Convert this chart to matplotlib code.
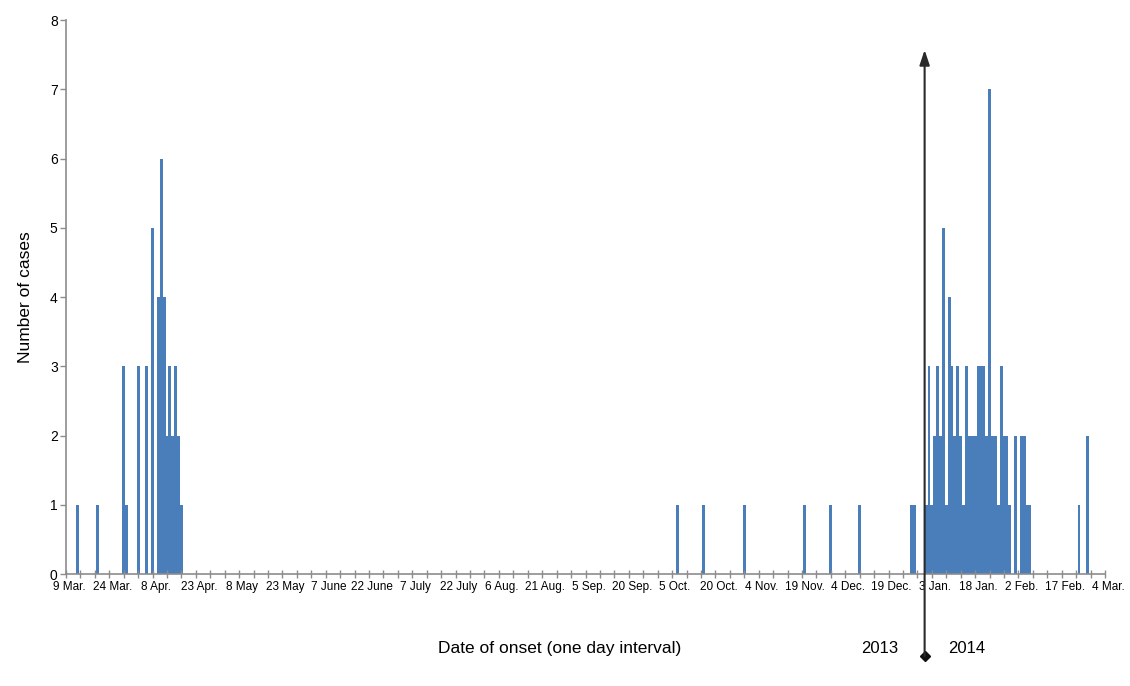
import matplotlib
matplotlib.use("Agg")
import matplotlib.pyplot as plt
import matplotlib.transforms as mtransforms
import numpy as np
import pandas as pd

plt.rcParams['font.family'] = ['Liberation Sans Narrow', 'Liberation Sans', 'DejaVu Sans']

# ---- data ----
start_date = "2013-03-09"
end_date = "2014-03-04"
year_break = "2014-01-01"

onset_dates = [
    "2013-03-13", "2013-03-20", "2013-03-29", "2013-03-30", "2013-04-03", "2013-04-06",
    "2013-04-08", "2013-04-10", "2013-04-11", "2013-04-12", "2013-04-13", "2013-04-14",
    "2013-04-15", "2013-04-16", "2013-04-17", "2013-04-18",
    "2013-10-07", "2013-10-16", "2013-10-30", "2013-11-20", "2013-11-29", "2013-12-09",
    "2013-12-27", "2013-12-28",
    "2014-01-01", "2014-01-02", "2014-01-03", "2014-01-04", "2014-01-05", "2014-01-06",
    "2014-01-07", "2014-01-08", "2014-01-09", "2014-01-10", "2014-01-11", "2014-01-12",
    "2014-01-13", "2014-01-14", "2014-01-15", "2014-01-16", "2014-01-17", "2014-01-18",
    "2014-01-19", "2014-01-20", "2014-01-21", "2014-01-22", "2014-01-23", "2014-01-24",
    "2014-01-25", "2014-01-26", "2014-01-27", "2014-01-28", "2014-01-29", "2014-01-30",
    "2014-02-01", "2014-02-03", "2014-02-04", "2014-02-05", "2014-02-06",
    "2014-02-23", "2014-02-26",
]
cases = [
    1, 1, 3, 1, 3, 3,
    5, 4, 6, 4, 2, 3,
    2, 3, 2, 1,
    1, 1, 1, 1, 1, 1,
    1, 1,
    1, 3, 1, 2, 3, 2,
    5, 1, 4, 3, 2, 3,
    2, 1, 3, 2, 2, 2,
    3, 3, 3, 2, 7, 2,
    2, 1, 3, 2, 2, 1,
    2, 2, 2, 1, 1,
    1, 2,
]
tick_labels = ["9 Mar.", "24 Mar.", "8 Apr.", "23 Apr.", "8 May", "23 May", "7 June",
               "22 June", "7 July", "22 July", "6 Aug.", "21 Aug.", "5 Sep.", "20 Sep.",
               "5 Oct.", "20 Oct.", "4 Nov.", "19 Nov.", "4 Dec.", "19 Dec.", "3 Jan.",
               "18 Jan.", "2 Feb.", "17 Feb.", "4 Mar."]
y_ticks = [0, 1, 2, 3, 4, 5, 6, 7, 8]

# ---- figure ----
W, H = 1130, 686
fig = plt.figure(figsize=(W / 100, H / 100), dpi=100)
ax = fig.add_axes([66 / W, 1 - 574 / H, (1105 - 66) / W, (574 - 20) / H])

t0 = pd.Timestamp(start_date)
day = np.array([(pd.Timestamp(d) - t0).days for d in onset_dates])
total_days = (pd.Timestamp(end_date) - t0).days

bar_color = "#4a7ebb"
bars = ax.bar(day, cases, width=1.0, color=bar_color, linewidth=0, align="center")
for b in bars:
    b.set_antialiased(False)

ax.set_xlim(0, total_days)
ax.set_ylim(0, 8)

major = np.arange(0, total_days + 1, 15)
minor = np.arange(0, total_days + 1, 5)
ax.set_xticks(major)
ax.set_xticks(minor, minor=True)
ax.set_xticklabels(tick_labels, fontsize=8.5)
ax.set_yticks(y_ticks)
ax.set_yticklabels([str(v) for v in y_ticks], fontsize=10)

axis_grey = "#8c8c8c"
for s in ["top", "right"]:
    ax.spines[s].set_visible(False)
for s in ["left", "bottom"]:
    ax.spines[s].set_color(axis_grey)
    ax.spines[s].set_linewidth(1.2)

ax.tick_params(axis="x", which="both", direction="inout", length=6, color=axis_grey,
               width=1, pad=2)
ax.tick_params(axis="y", which="major", direction="out", length=4, color=axis_grey,
               width=1, pad=2)

offset = mtransforms.ScaledTranslation(3 / 100, 0, fig.dpi_scale_trans)
for lab in ax.get_xticklabels():
    lab.set_transform(lab.get_transform() + offset)

ax.set_ylabel("Number of cases", fontsize=12.5, labelpad=12)

# year-break arrow
xb = (pd.Timestamp(year_break) - t0).days - 0.5
trans = mtransforms.blended_transform_factory(ax.transData, ax.transAxes)
ax.annotate("", xy=(xb, 0.946), xycoords=trans, xytext=(xb, -0.148), textcoords=trans,
            arrowprops=dict(arrowstyle="-|>,head_length=0.9,head_width=0.3",
                            color="#2a2a2a", lw=1.5, shrinkA=0, shrinkB=0),
            annotation_clip=False)
ax.plot([xb], [-0.148], marker="D", markersize=5, color="#111111", transform=trans,
        clip_on=False)

ax.text(xb - 15.5, -0.134, "2013", transform=trans, ha="center", va="center", fontsize=12)
ax.text(xb + 14.5, -0.134, "2014", transform=trans, ha="center", va="center", fontsize=12)
ax.text(0.475, -0.134, "Date of onset (one day interval)", transform=ax.transAxes,
        ha="center", va="center", fontsize=12.5)

fig.savefig("out.png", dpi=100, facecolor="white")
